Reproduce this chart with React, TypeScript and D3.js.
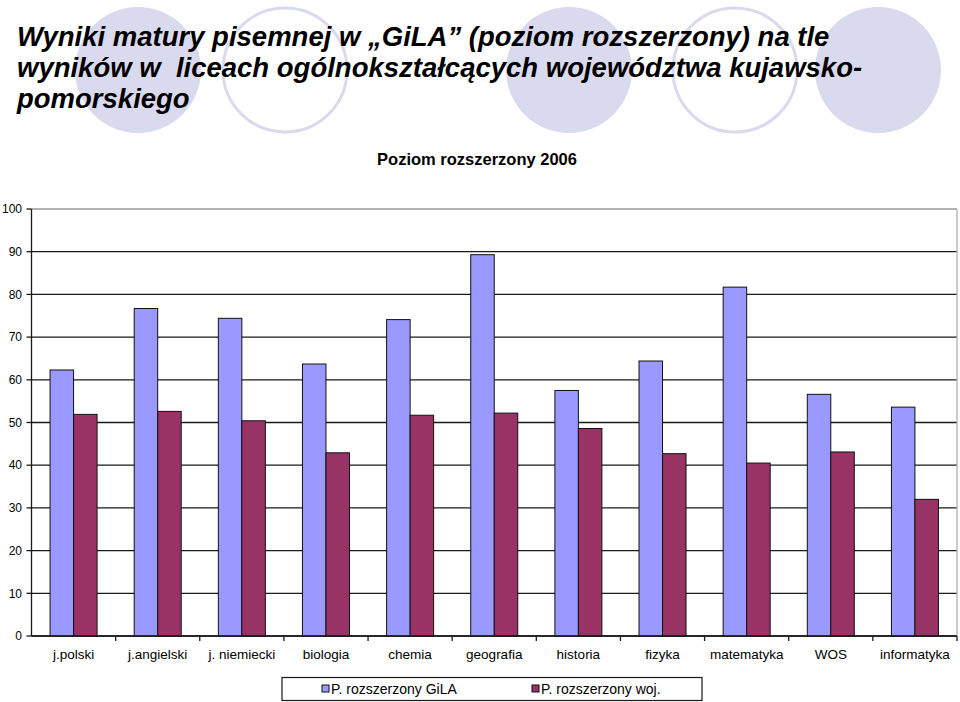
import React, { useEffect } from 'react';
import * as d3 from 'd3';

const categories = [
  'j.polski', 'j.angielski', 'j. niemiecki', 'biologia', 'chemia', 'geografia',
  'historia', 'fizyka', 'matematyka', 'WOS', 'informatyka',
];
const gilaValues = [62.3, 76.7, 74.4, 63.7, 74.1, 89.3, 57.5, 64.4, 81.7, 56.6, 53.6];
const wojValues = [51.9, 52.6, 50.4, 42.9, 51.7, 52.2, 48.6, 42.7, 40.5, 43.1, 32.0];
const seriesNames = ['P. rozszerzony GiLA', 'P. rozszerzony woj.'];
const yTicks = [0, 10, 20, 30, 40, 50, 60, 70, 80, 90, 100];

const W = 960;
const H = 702;
const plot = { left: 31.5, right: 957, top: 209, bottom: 636 };
const colors = ['#9999ff', '#993366'];
const font = '"Liberation Sans", Arial, sans-serif';

const App = () => {
  useEffect(() => {
    document.body.style.margin = '0';
  }, []);

  const x = d3.scaleBand<string>().domain(categories).range([plot.left, plot.right]);
  const inner = d3
    .scaleBand<number>()
    .domain([0, 1])
    .range([0, x.bandwidth()])
    .paddingInner(0)
    .paddingOuter(0.79);
  const y = d3.scaleLinear().domain([0, 100]).range([plot.bottom, plot.top]);
  const series = [gilaValues, wojValues];

  // decorative circles behind the title
  const circles = [
    { cx: 138, filled: true },
    { cx: 285, filled: false },
    { cx: 569, filled: true },
    { cx: 735, filled: false },
    { cx: 878, filled: true },
  ];

  return (
    <svg width={W} height={H} style={{ display: 'block', fontFamily: font }}>
      <rect width={W} height={H} fill="#fff" />
      {circles.map((c, i) => (
        <circle
          key={i}
          cx={c.cx}
          cy={70}
          r={c.filled ? 63 : 62}
          fill={c.filled ? '#dadaee' : '#fff'}
          stroke={c.filled ? 'none' : '#dadaee'}
          strokeWidth={3}
        />
      ))}
      <g fontWeight="bold" fontStyle="italic" fontSize={27.5} fill="#000">
        <text x={17} y={45.5}>Wyniki matury pisemnej w „GiLA” (poziom rozszerzony) na tle</text>
        <text x={17} y={76.5}>{'wyników w\u00a0 liceach ogólnokształcących województwa kujawsko-'}</text>
        <text x={17} y={107.5}>pomorskiego</text>
      </g>
      <text x={477} y={165} textAnchor="middle" fontWeight="bold" fontSize={16.5}>
        Poziom rozszerzony 2006
      </text>

      {/* gridlines */}
      {yTicks.map((t) => (
        <line
          key={t}
          x1={plot.left}
          x2={plot.right}
          y1={y(t)}
          y2={y(t)}
          stroke={t === 100 ? '#999' : '#1a1a1a'}
          strokeWidth={1.3}
        />
      ))}
      <line x1={plot.right} x2={plot.right} y1={plot.top} y2={plot.bottom} stroke="#aaa" strokeWidth={1.2} />

      {/* bars */}
      {categories.map((c, i) => (
        <g key={c} transform={`translate(${x(c)},0)`}>
          {series.map((vals, s) => (
            <rect
              key={s}
              x={inner(s)}
              y={y(vals[i])}
              width={inner.bandwidth()}
              height={y(0) - y(vals[i])}
              fill={colors[s]}
              stroke="#111"
              strokeWidth={1}
            />
          ))}
        </g>
      ))}

      {/* y axis */}
      <line x1={plot.left} x2={plot.left} y1={plot.top} y2={plot.bottom} stroke="#1a1a1a" strokeWidth={1.3} />
      {yTicks.map((t) => (
        <g key={t}>
          <line x1={plot.left - 5} x2={plot.left} y1={y(t)} y2={y(t)} stroke="#1a1a1a" strokeWidth={1.3} />
          <text x={22} y={y(t)} dy="0.35em" textAnchor="end" fontSize={12}>
            {t}
          </text>
        </g>
      ))}

      {/* x axis */}
      <line x1={plot.left} x2={plot.right} y1={plot.bottom} y2={plot.bottom} stroke="#1a1a1a" strokeWidth={1.3} />
      {categories.map((c) => (
        <line
          key={c}
          x1={(x(c) ?? 0) + x.bandwidth()}
          x2={(x(c) ?? 0) + x.bandwidth()}
          y1={plot.bottom}
          y2={plot.bottom + 5}
          stroke="#1a1a1a"
          strokeWidth={1.3}
        />
      ))}
      {categories.map((c) => (
        <text key={c} x={(x(c) ?? 0) + x.bandwidth() / 2} y={659} textAnchor="middle" fontSize={13.5}>
          {c}
        </text>
      ))}

      {/* legend */}
      <rect x={282} y={677.5} width={420} height={23} fill="#fff" stroke="#1a1a1a" strokeWidth={1.2} />
      {seriesNames.map((n, s) => {
        const lx = s === 0 ? 322 : 532;
        return (
          <g key={n}>
            <rect x={lx} y={685} width={7} height={7} fill={colors[s]} stroke="#111" strokeWidth={1} />
            <text x={lx + 9} y={694} fontSize={14}>
              {n}
            </text>
          </g>
        );
      })}
    </svg>
  );
};

export default App;
